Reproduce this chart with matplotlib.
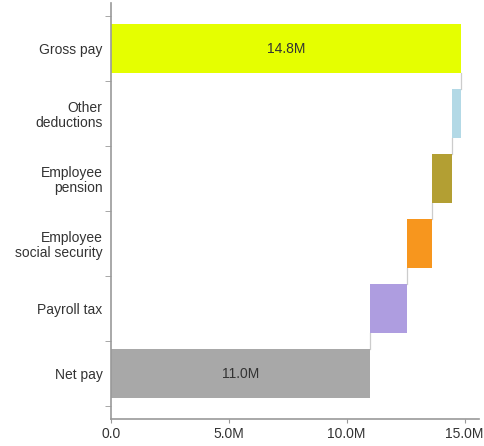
import numpy as np
import matplotlib.pyplot as plt

# waterfall data (millions), top to bottom
categories = ['Gross pay', 'Other\ndeductions', 'Employee\npension',
              'Employee\nsocial security', 'Payroll tax', 'Net pay']
amounts = [14.85, -0.40, -0.85, -1.02, -1.58, 11.0]
is_total = [True, False, False, False, False, True]
colors = ['#e5ff00', '#b3d9e6', '#b39f33', '#f7961e', '#ae9de0', '#a8a8a8']
bar_labels = ['14.8M', '', '', '', '', '11.0M']
xticks = [0, 5, 10, 15]
xtick_labels = ['0.0', '5.0M', '10.0M', '15.0M']

plt.rcParams['font.family'] = ['Liberation Sans', 'DejaVu Sans']

fig = plt.figure(figsize=(4.84, 4.46), dpi=100)
ax = fig.add_axes([0.229, 0.0605, 0.76, 0.9325])

n = len(categories)
ypos = np.arange(n)[::-1]  # first category on top
h = 0.75

running = 0.0
lefts, widths = [], []
for amt, tot in zip(amounts, is_total):
    if tot:
        lefts.append(0.0)
        widths.append(amt)
        running = amt
    else:
        lefts.append(running + amt)
        widths.append(-amt)
        running = running + amt

ax.barh(ypos, widths, left=lefts, height=h, color=colors, zorder=2)

# connector lines between consecutive bars
for i in range(n - 1):
    if is_total[i]:
        xc = lefts[i] + widths[i]
    else:
        xc = lefts[i]
    ax.plot([xc, xc], [ypos[i] - h / 2, ypos[i + 1] + h / 2],
            color='#cccccc', lw=0.9, zorder=1)

for y, l, w, lab in zip(ypos, lefts, widths, bar_labels):
    if lab:
        ax.text(l + w / 2, y, lab, ha='center', va='center',
                fontsize=10, color='#333333')

ax.set_xlim(0, 15.6)
ax.set_ylim(-0.7, n - 0.3)

ax.set_yticks(ypos)
ax.set_yticklabels(categories, fontsize=10, color='#333333', ha='right',
                   linespacing=1.1)
ax.tick_params(axis='y', length=0, pad=6)
ax.set_yticks(np.arange(-0.5, n, 1.0), minor=True)
ax.tick_params(axis='y', which='minor', length=4, color='#999999', direction='out')

ax.set_xticks(xticks)
ax.set_xticklabels(xtick_labels, fontsize=10, color='#333333')
ax.tick_params(axis='x', length=3, color='#999999', pad=3)

for s in ['top', 'right']:
    ax.spines[s].set_visible(False)
for s in ['left', 'bottom']:
    ax.spines[s].set_color('#999999')
    ax.spines[s].set_linewidth(1.2)

plt.savefig('out.png', dpi=100)
